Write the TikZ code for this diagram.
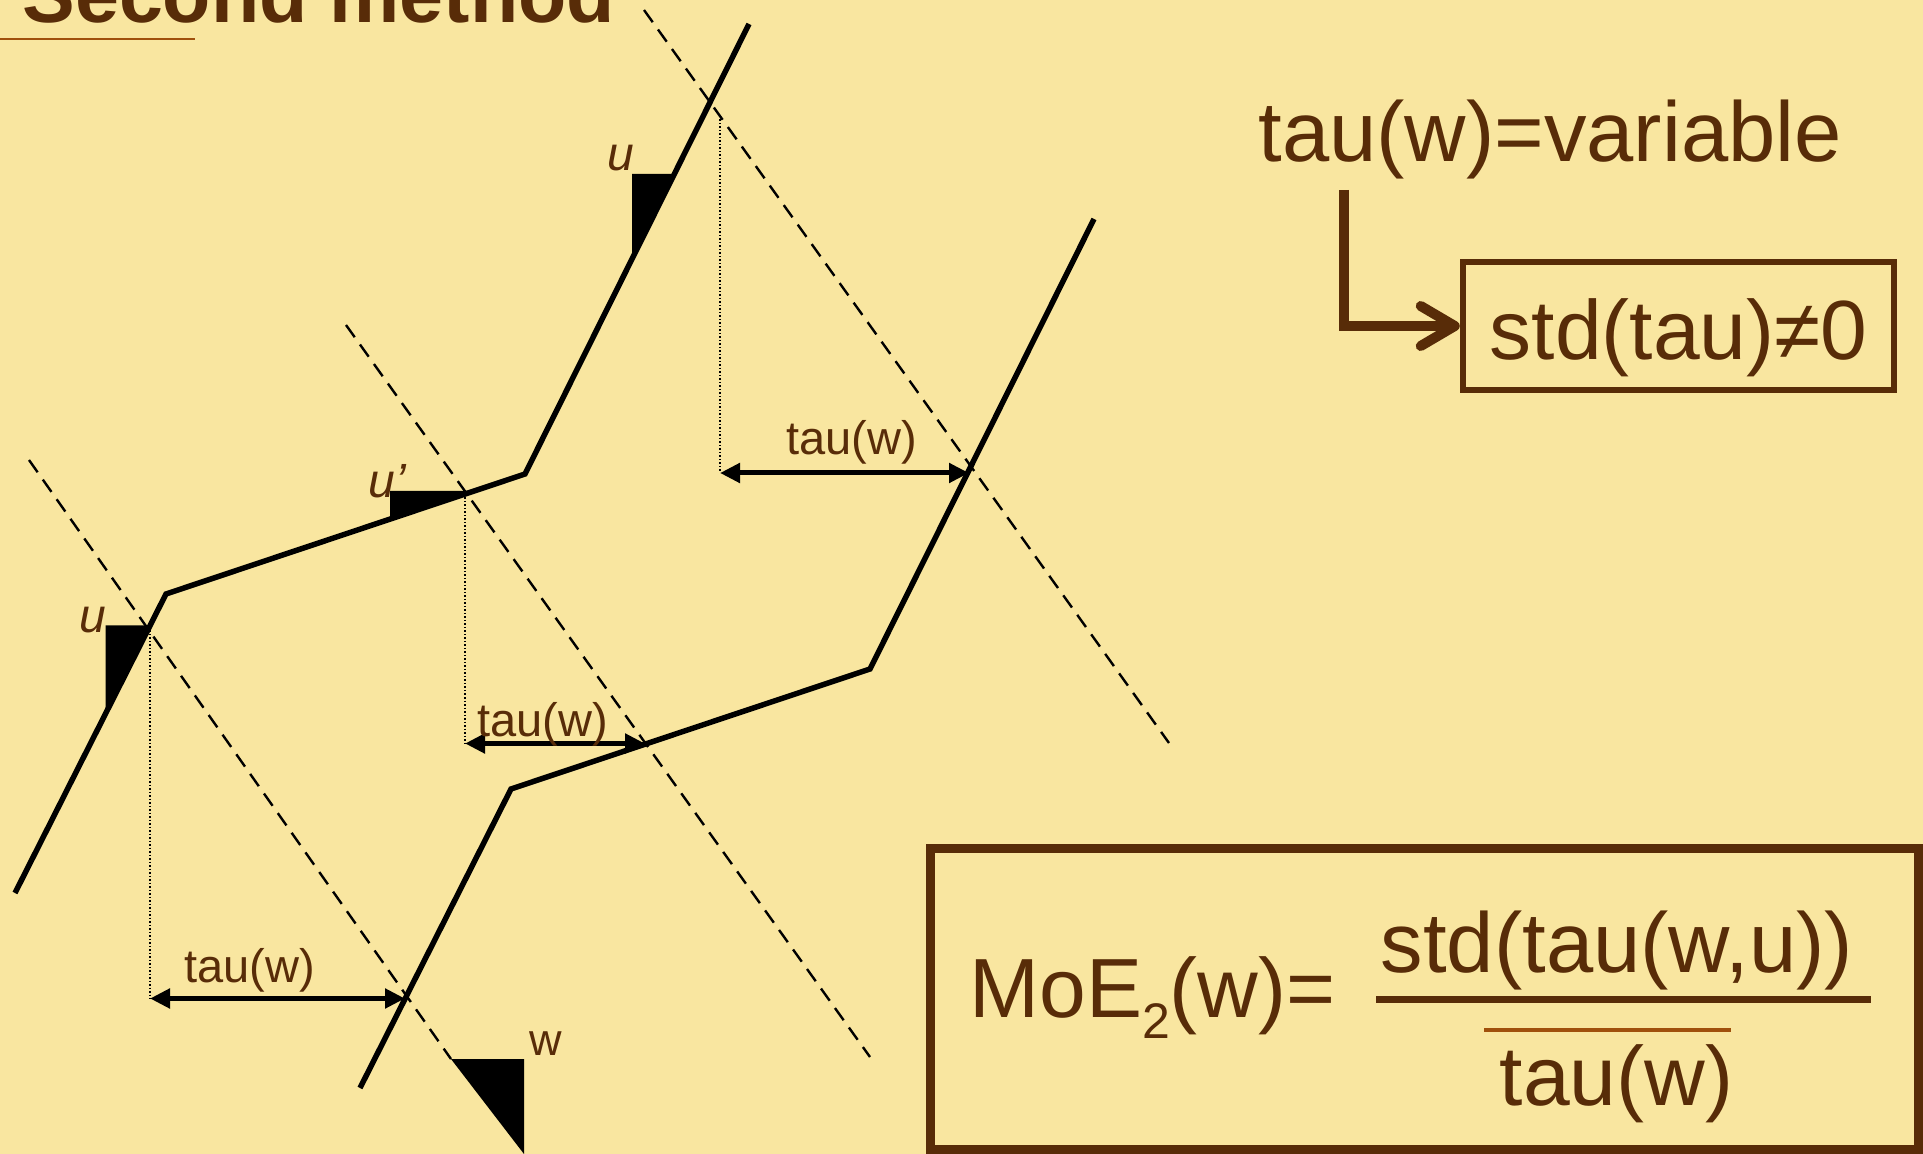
\documentclass[tikz,border=0pt]{standalone}
\usepackage{fontspec}
\setmainfont{Liberation Sans}
\usetikzlibrary{arrows.meta}
\definecolor{bgc}{RGB}{249,230,160}
\definecolor{brn}{RGB}{88,44,8}
\definecolor{orn}{RGB}{160,80,12}
\tikzset{
  pathline/.style={line width=2.75pt, black},
  guide/.style={line width=1.2pt, black, dash pattern=on 7.5pt off 4.5pt},
  dropline/.style={line width=0.75pt, black, dash pattern=on 0.75pt off 1pt},
  measure/.style={line width=2.5pt, black, {Triangle[length=10pt,width=9.5pt]}-{Triangle[length=10pt,width=9.5pt]}},
  taulbl/.style={text=brn, inner sep=0pt, anchor=base west, font=\fontsize{23.5pt}{28pt}\selectfont},
  ulbl/.style={text=brn, inner sep=0pt, anchor=base west, font=\fontsize{24pt}{28pt}\selectfont\itshape},
  bigtxt/.style={text=brn, inner sep=0pt, anchor=base west, font=\fontsize{42.5pt}{50pt}\selectfont},
  marker/.style={fill=black},
}
\begin{document}
\begin{tikzpicture}[x=0.5pt,y=-0.5pt]
\fill[bgc] (0,0) rectangle (1923,1154);
\useasboundingbox (0,0) rectangle (1923,1154);

% title
\node[text=brn, inner sep=0pt, anchor=base west, font=\fontsize{39.5pt}{44pt}\selectfont\bfseries] (title) at (22,22.7) {Second method};
\coordinate (ul1) at (0,39);
\coordinate (ul2) at (195,39);
\draw[orn, line width=1.35pt] (ul1) -- (ul2);

% key points
\coordinate (a1) at (15,893);
\coordinate (a2) at (166,594);
\coordinate (a3) at (525,474);
\coordinate (a4) at (749,24);
\coordinate (b1) at (360,1088);
\coordinate (b2) at (511,789);
\coordinate (b3) at (870,669);
\coordinate (b4) at (1094,219);

% markers
\fill[marker] (632,174) -- (674,174) -- (632,258) -- cycle;
\fill[marker] (105.5,625.5) -- (150,625.5) -- (105.5,711) -- cycle;
\fill[marker] (390,491) -- (470,491) -- (390,519) -- cycle;
\fill[marker] (451,1059) -- (524,1059) -- (524,1154) -- cycle;

% dashed guides
\coordinate (g1s) at (29,460);
\coordinate (g1e) at (451,1059);
\coordinate (g2s) at (346,325);
\coordinate (g2e) at (870,1057);
\coordinate (g3s) at (644,10);
\coordinate (g3e) at (1169,743);
\draw[guide] (g1s) -- (g1e);
\draw[guide] (g2s) -- (g2e);
\draw[guide] (g3s) -- (g3e);

% dotted drops and measures
\coordinate (v1t) at (150,627);
\coordinate (m1l) at (150,998.5);
\coordinate (m1r) at (405,998.5);
\coordinate (v2t) at (465,494);
\coordinate (m2l) at (465,743.5);
\coordinate (m2r) at (645,743.5);
\coordinate (v3t) at (720,116);
\coordinate (m3l) at (720,473);
\coordinate (m3r) at (969,473);
\draw[dropline] (v1t) -- (m1l);
\draw[dropline] (v2t) -- (m2l);
\draw[dropline] (v3t) -- (m3l);

% trajectories
\draw[pathline] (a1) -- (a2) -- (a3) -- (a4);
\draw[pathline] (b1) -- (b2) -- (b3) -- (b4);

\draw[measure] (m1l) -- (m1r);
\draw[measure] (m2l) -- (m2r);
\draw[measure] (m3l) -- (m3r);

% labels
\node[taulbl] (t1) at (184,982) {tau(w)};
\node[taulbl] (t2) at (477,736) {tau(w)};
\node[taulbl] (t3) at (786,455) {tau(w)};
\node[ulbl] (utop) at (607,171) {u};
\node[ulbl] (uleft) at (79,633) {u};
\node[ulbl] (uprime) at (368,498) {u’};
\node[text=brn, inner sep=0pt, anchor=base west, font=\fontsize{22.5pt}{26pt}\selectfont] (wl) at (529,1055) {w};

% top right
\node[bigtxt] (tauvar) at (1258,162) {tau(w)=variable};
\node[draw=brn, line width=3.25pt, text=brn, inner sep=0pt, minimum width=215.5pt, minimum height=64pt,
      text height=34pt, text depth=0pt, font=\fontsize{42pt}{48pt}\selectfont] (stdbox) at (1678.5,326) {std(tau)≠0};
\coordinate (elbowstart) at (1344,190);
\draw[brn, line width=5pt, -{Straight Barb[length=17pt,width=20pt,round]}] (elbowstart) |- (stdbox.west);

% formula box
\node[draw=brn, line width=4.5pt, minimum width=494pt, minimum height=150.5pt, inner sep=0pt] (formulabox) at (1424,998.5) {};
\node[text=brn, inner sep=0pt, anchor=base west, font=\fontsize{42pt}{48pt}\selectfont] (moe) at (969,1017) {MoE\raisebox{-10.5pt}{\fontsize{25pt}{25pt}\selectfont 2}(w)=};
\node[text=brn, inner sep=0pt, anchor=base, font=\fontsize{42.5pt}{48pt}\selectfont] (numer) at (1617,972) {std(tau(w,u))};
\coordinate (fb1) at (1376,999.5);
\coordinate (fb2) at (1871,999.5);
\draw[brn, line width=3.75pt] (fb1) -- (fb2);
\coordinate (ob1) at (1484,1029.5);
\coordinate (ob2) at (1731,1029.5);
\draw[orn, line width=2pt] (ob1) -- (ob2);
\node[text=brn, inner sep=0pt, anchor=base, font=\fontsize{42pt}{48pt}\selectfont] (denom) at (1616.5,1105) {tau(w)};
\end{tikzpicture}
\end{document}
